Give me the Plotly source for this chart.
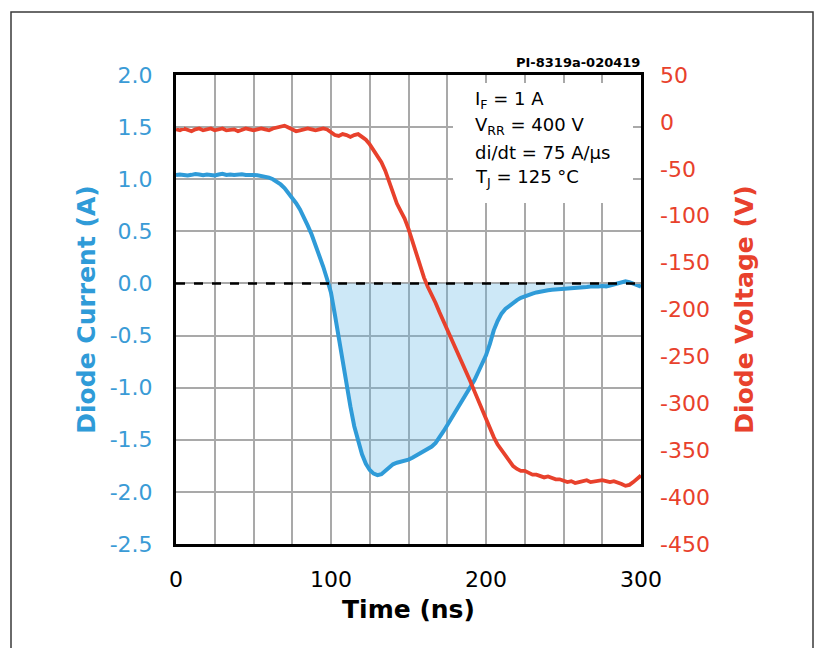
import numpy as np
import plotly.graph_objects as go

# Reverse-recovery waveform, sampled every 2.5 ns
time_ns = [
    0, 2.5, 5, 7.5, 10, 12.5, 15, 17.5, 20, 22.5, 25, 27.5, 30, 32.5, 35, 37.5,
    40, 42.5, 45, 47.5, 50, 52.5, 55, 57.5, 60, 62.5, 65, 67.5, 70, 72.5, 75, 77.5,
    80, 82.5, 85, 87.5, 90, 92.5, 95, 97.5, 100, 102.5, 105, 107.5, 110, 112.5,
    115, 117.5, 120, 122.5, 125, 127.5, 130, 132.5, 135, 137.5, 140, 142.5, 145,
    147.5, 150, 152.5, 155, 157.5, 160, 162.5, 165, 167.5, 170, 172.5, 175, 177.5,
    180, 182.5, 185, 187.5, 190, 192.5, 195, 197.5, 200, 202.5, 205, 207.5, 210,
    212.5, 215, 217.5, 220, 222.5, 225, 227.5, 230, 232.5, 235, 237.5, 240, 242.5,
    245, 247.5, 250, 252.5, 255, 257.5, 260, 262.5, 265, 267.5, 270, 272.5, 275,
    277.5, 280, 282.5, 285, 287.5, 290, 292.5, 295, 297.5, 300,
]

diode_current_a = [
    1.040, 1.045, 1.040, 1.035, 1.042, 1.050, 1.045, 1.038, 1.046, 1.040,
    1.036, 1.045, 1.052, 1.041, 1.046, 1.040, 1.043, 1.047, 1.040, 1.036,
    1.040, 1.038, 1.032, 1.025, 1.015, 1.000, 0.980, 0.950, 0.915, 0.870,
    0.820, 0.770, 0.710, 0.640, 0.555, 0.470, 0.370, 0.270, 0.160, 0.040,
    -0.090, -0.300, -0.530, -0.760, -0.970, -1.180, -1.370, -1.520, -1.640, -1.730,
    -1.790, -1.825, -1.840, -1.830, -1.795, -1.760, -1.735, -1.720, -1.712, -1.705,
    -1.690, -1.672, -1.652, -1.632, -1.610, -1.590, -1.565, -1.530, -1.480, -1.420,
    -1.360, -1.300, -1.240, -1.170, -1.110, -1.050, -1.000, -0.930, -0.850, -0.770,
    -0.690, -0.580, -0.450, -0.360, -0.290, -0.245, -0.215, -0.185, -0.160, -0.138,
    -0.122, -0.108, -0.097, -0.086, -0.077, -0.071, -0.066, -0.060, -0.058, -0.054,
    -0.050, -0.048, -0.041, -0.045, -0.040, -0.036, -0.034, -0.030, -0.034, -0.029,
    -0.025, -0.028, -0.020, -0.010, 0.000, 0.014, 0.020, 0.012, 0.000, -0.018,
    -0.030,
]

diode_voltage_v = [
    -8, -9, -7, -8, -10, -8, -7, -9, -8, -7,
    -9, -8, -7, -9, -8, -8, -10, -8, -7, -8,
    -9, -8, -7, -8, -9, -7, -6, -5, -4, -6,
    -8, -10, -9, -8, -7, -8, -9, -8, -7, -8,
    -11, -14, -15, -13, -14, -16, -14, -13, -16, -19,
    -24, -30, -36, -43, -52, -64, -77, -87, -95, -103,
    -114, -127, -141, -155, -166, -176, -184, -193, -203, -212,
    -221, -231, -240, -249, -258, -267, -277, -287, -297, -308,
    -318, -327, -336, -344, -350, -356, -362, -367, -370, -372,
    -372, -374, -376, -376, -377, -379, -378, -380, -381, -381,
    -383, -384, -383, -385, -384, -383, -382, -384, -383, -382,
    -382, -383, -384, -383, -384, -386, -388, -387, -384, -380,
    -377,
]

x_tick_vals = [0, 100, 200, 300]
x_tick_labels = ["0", "100", "200", "300"]
current_tick_vals = [2.0, 1.5, 1.0, 0.5, 0.0, -0.5, -1.0, -1.5, -2.0, -2.5]
current_tick_labels = ["2.0", "1.5", "1.0", "0.5", "0.0",
                       "-0.5", "-1.0", "-1.5", "-2.0", "-2.5"]
voltage_tick_vals = [50, 0, -50, -100, -150, -200, -250, -300, -350, -400, -450]
voltage_tick_labels = ["50", "0", "-50", "-100", "-150", "-200",
                       "-250", "-300", "-350", "-400", "-450"]
conditions = ["I<sub>F</sub> = 1 A", "V<sub>RR</sub> = 400 V",
              "di/dt = 75 A/µs", "T<sub>J</sub> = 125 °C"]
figure_id = "PI-8319a-020419"

BLUE = "#2f9bd8"
BLUE_TXT = "#3a9bd6"
RED = "#e8412c"
GRID = "#a9a9a9"
FONT = "DejaVu Sans"

# plot-area geometry (pixels)
W, H = 819, 648
L, R, T, B = 176, 178, 75, 104
pw, ph = W - L - R, H - T - B


def px(x):
    return (x - L) / pw


def py(y):
    return (H - B - y) / ph


fig = go.Figure()

# shaded reverse-recovery charge (negative current region)
current = np.array(diode_current_a)
fig.add_trace(go.Scatter(
    x=time_ns, y=np.minimum(current, 0.0), mode="lines",
    line=dict(width=0), fill="tozeroy", fillcolor="rgba(100,185,230,0.32)",
    hoverinfo="skip", showlegend=False, yaxis="y",
))

fig.add_trace(go.Scatter(
    x=time_ns, y=diode_voltage_v, mode="lines",
    line=dict(color=RED, width=3.8), showlegend=False, yaxis="y2",
))
fig.add_trace(go.Scatter(
    x=time_ns, y=diode_current_a, mode="lines",
    line=dict(color=BLUE, width=4), showlegend=False, yaxis="y",
))

shapes = [
    # zero-current reference
    dict(type="line", xref="paper", yref="y", x0=0, x1=1, y0=0, y1=0,
         line=dict(color="black", width=2.5, dash="dash"), layer="above"),
    # white panel behind the test conditions
    dict(type="rect", xref="paper", yref="paper",
         x0=px(453), x1=px(633), y0=py(203), y1=py(83),
         fillcolor="white", line=dict(width=0), layer="above"),
    # outer frame
    dict(type="rect", xref="paper", yref="paper",
         x0=px(11), x1=px(813), y0=py(700), y1=py(12),
         fillcolor="rgba(0,0,0,0)", line=dict(color="#3a3a3a", width=1.5),
         layer="above"),
]

annotations = []
for txt, yc in zip(conditions, [100, 126, 152, 178]):
    annotations.append(dict(
        text=txt, xref="paper", yref="paper", x=px(473), y=py(yc),
        xanchor="left", yanchor="middle", showarrow=False,
        font=dict(family=FONT, size=18, color="black"),
    ))
annotations.append(dict(
    text=figure_id, xref="paper", yref="paper", x=px(642), y=py(62),
    xanchor="right", yanchor="middle", showarrow=False,
    font=dict(family=FONT, size=13, color="black", weight="bold"),
))

fig.update_layout(
    width=W, height=H, autosize=False,
    margin=dict(l=L, r=R, t=T, b=B, pad=0),
    paper_bgcolor="white", plot_bgcolor="white",
    font=dict(family=FONT),
    shapes=shapes, annotations=annotations,
    xaxis=dict(
        range=[0, 300], tickvals=x_tick_vals, ticktext=x_tick_labels,
        showgrid=True, gridcolor=GRID, gridwidth=1.5,
        minor=dict(dtick=25, showgrid=True, gridcolor=GRID, gridwidth=1.5,
                   ticks="inside", ticklen=8, tickcolor=GRID, tickwidth=1.5),
        ticks="inside", ticklen=8, tickcolor=GRID, tickwidth=1.5,
        showline=True, linecolor="black", linewidth=3, mirror="ticks",
        zeroline=False, ticklabelstandoff=14,
        tickfont=dict(family=FONT, size=22, color="black"),
        title=dict(text="Time (ns)", standoff=10,
                   font=dict(family=FONT, size=25, color="black", weight="bold")),
    ),
    yaxis=dict(
        range=[-2.5, 2.0], tickvals=current_tick_vals, ticktext=current_tick_labels,
        showgrid=True, gridcolor=GRID, gridwidth=1.5, zeroline=False,
        ticks="inside", ticklen=8, tickcolor=GRID, tickwidth=1.5,
        showline=True, linecolor="black", linewidth=3, mirror="ticks",
        ticklabelstandoff=16,
        tickfont=dict(family=FONT, size=22, color=BLUE_TXT),
        title=dict(text="Diode Current (A)", standoff=7,
                   font=dict(family=FONT, size=25, color=BLUE, weight="bold")),
    ),
    yaxis2=dict(
        range=[-450, 50], tickvals=voltage_tick_vals, ticktext=voltage_tick_labels,
        overlaying="y", side="right",
        showgrid=False, zeroline=False, showline=False, ticks="",
        ticklabelstandoff=18,
        tickfont=dict(family=FONT, size=22, color=RED),
        title=dict(text="Diode Voltage (V)", standoff=26,
                   font=dict(family=FONT, size=25, color=RED, weight="bold")),
    ),
)

fig.write_html("out.html")
